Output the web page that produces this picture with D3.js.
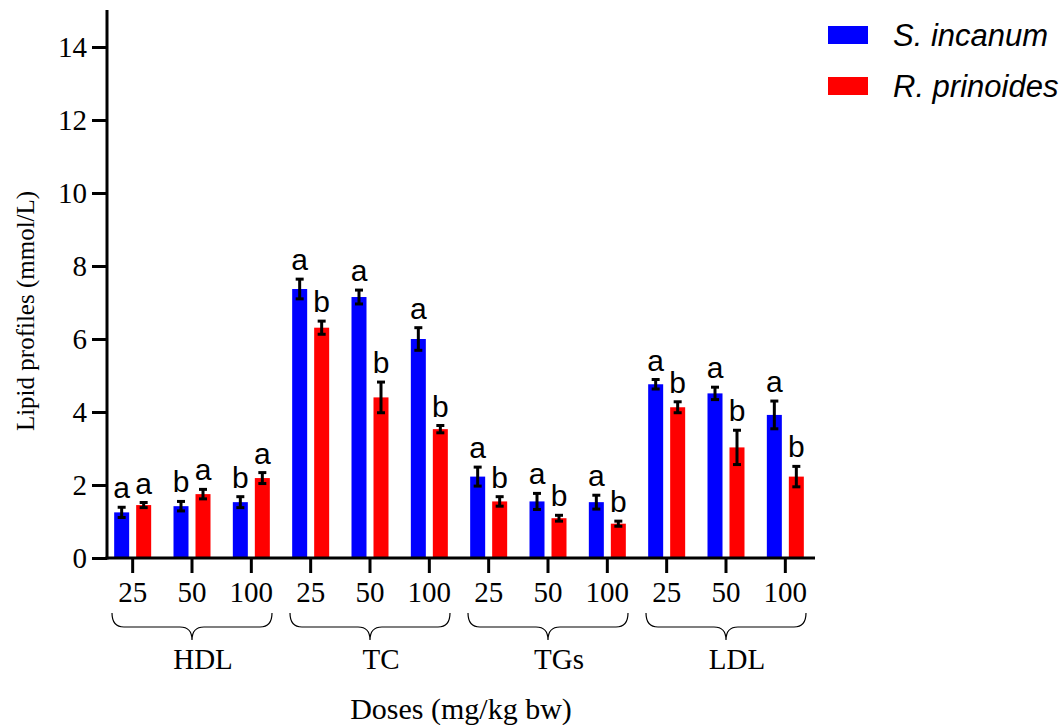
<!DOCTYPE html>
<html><head><meta charset="utf-8">
<script src="https://cdn.jsdelivr.net/npm/d3@7"></script>
<style>body{margin:0;background:#fff}svg{display:block}</style>
</head><body>
<script>
// ---- data ----
const groups = ["HDL", "TC", "TGs", "LDL"];
const doses = ["25", "50", "100"];
const series = ["S. incanum", "R. prinoides"];
const colors = ["#0000FF", "#FF0000"];
// means in group order (HDL 25,50,100, TC 25,50,100, TGs ..., LDL ...)
const sIncanum      = [1.25, 1.42, 1.53, 7.37, 7.15, 6.00, 2.23, 1.55, 1.53, 4.76, 4.51, 3.92];
const sIncanumErr   = [0.14, 0.13, 0.15, 0.27, 0.19, 0.31, 0.26, 0.22, 0.19, 0.13, 0.17, 0.38];
const sIncanumSig   = ["a", "b", "b", "a", "a", "a", "a", "a", "a", "a", "a", "a"];
const rPrinoides    = [1.45, 1.75, 2.19, 6.31, 4.40, 3.53, 1.55, 1.09, 0.94, 4.13, 3.03, 2.23];
const rPrinoidesErr = [0.07, 0.13, 0.15, 0.18, 0.42, 0.10, 0.13, 0.08, 0.07, 0.15, 0.47, 0.28];
const rPrinoidesSig = ["a", "a", "a", "b", "b", "b", "b", "b", "b", "b", "b", "b"];
const yTicks = [0, 2, 4, 6, 8, 10, 12, 14];

// ---- layout ----
const W = 1064, H = 725;
const axisX = 107, baseY = 558, topY = 10, rightX = 815;
const serif = "'Liberation Serif','Times New Roman',serif";
const sans = "'Liberation Sans',Arial,sans-serif";

const svg = d3.select("body").append("svg").attr("width", W).attr("height", H);

const cats = [];
groups.forEach(g => doses.forEach(d => cats.push(g + "|" + d)));

const x = d3.scaleBand().domain(cats).range([103, rightX]);
const xs = d3.scaleBand().domain(series).range([-18.5, 18.5]).paddingInner(0.318);
const y = d3.scaleLinear().domain([0, 15]).range([baseY, baseY - 15 * 36.5]);

const seriesData = [
  {name: series[0], vals: sIncanum, err: sIncanumErr, sig: sIncanumSig, color: colors[0]},
  {name: series[1], vals: rPrinoides, err: rPrinoidesErr, sig: rPrinoidesSig, color: colors[1]}
];

// bars
seriesData.forEach(s => {
  const g = svg.append("g");
  cats.forEach((c, i) => {
    const cx = x(c) + x.bandwidth() / 2 + xs(s.name) + xs.bandwidth() / 2;
    const v = s.vals[i], e = s.err[i];
    g.append("rect")
      .attr("x", cx - xs.bandwidth() / 2).attr("width", xs.bandwidth())
      .attr("y", y(v)).attr("height", y(0) - y(v))
      .attr("fill", s.color);
    // error bar
    g.append("line").attr("x1", cx).attr("x2", cx)
      .attr("y1", y(v - e)).attr("y2", y(v + e))
      .attr("stroke", "#000").attr("stroke-width", 3);
    [v - e, v + e].forEach(t => g.append("line")
      .attr("x1", cx - 4).attr("x2", cx + 4).attr("y1", y(t)).attr("y2", y(t))
      .attr("stroke", "#000").attr("stroke-width", 3));
    g.append("text").attr("x", cx).attr("y", y(v + e) - 9)
      .attr("text-anchor", "middle").attr("font-family", sans).attr("font-size", 30)
      .attr("fill", "#000").text(s.sig[i]);
  });
});

// y axis
const yAxis = svg.append("g").attr("transform", `translate(${axisX},0)`)
  .call(d3.axisLeft(y).tickValues(yTicks).tickSize(15).tickPadding(5).tickFormat(d3.format("d")));
yAxis.select(".domain").remove();
yAxis.selectAll(".tick line").attr("stroke", "#000").attr("stroke-width", 3);
yAxis.selectAll(".tick text").attr("font-family", serif).attr("font-size", 29).attr("fill", "#000")
  .attr("dy", "0.34em");
svg.append("line").attr("x1", axisX).attr("x2", axisX).attr("y1", topY).attr("y2", baseY + 1.5)
  .attr("stroke", "#000").attr("stroke-width", 3);

// x axis
const xAxis = svg.append("g").attr("transform", `translate(0,${baseY})`)
  .call(d3.axisBottom(x).tickSize(15).tickPadding(8).tickFormat(c => c.split("|")[1]));
xAxis.select(".domain").remove();
xAxis.selectAll(".tick line").attr("stroke", "#000").attr("stroke-width", 3);
xAxis.selectAll(".tick text").attr("font-family", serif).attr("font-size", 29).attr("fill", "#000");
svg.append("line").attr("x1", axisX - 1.5).attr("x2", rightX).attr("y1", baseY).attr("y2", baseY)
  .attr("stroke", "#000").attr("stroke-width", 3);

// braces and group labels
groups.forEach(gname => {
  const first = x(gname + "|" + doses[0]) + x.bandwidth() / 2;
  const last = x(gname + "|" + doses[doses.length - 1]) + x.bandwidth() / 2;
  const cx = (first + last) / 2;
  const w = 80, y0 = 613, y1 = 627, y2 = 640, r = 12;
  const p = `M${cx - w},${y0} Q${cx - w},${y1} ${cx - w + r},${y1} L${cx - r},${y1} Q${cx},${y1} ${cx},${y2} ` +
            `Q${cx},${y1} ${cx + r},${y1} L${cx + w - r},${y1} Q${cx + w},${y1} ${cx + w},${y0}`;
  svg.append("path").attr("d", p).attr("fill", "none").attr("stroke", "#000").attr("stroke-width", 1.2);
  svg.append("text").attr("x", cx + 11).attr("y", 669).attr("text-anchor", "middle")
    .attr("font-family", serif).attr("font-size", 29).attr("fill", "#000").text(gname);
});

// axis titles
svg.append("text").attr("x", 461).attr("y", 719).attr("text-anchor", "middle")
  .attr("font-family", serif).attr("font-size", 30).attr("fill", "#000").text("Doses (mg/kg bw)");
svg.append("text").attr("transform", "translate(34,311) rotate(-90)").attr("text-anchor", "middle")
  .attr("font-family", serif).attr("font-size", 25).attr("fill", "#000").text("Lipid profiles (mmol/L)");

// legend
series.forEach((s, i) => {
  const ly = 35 + i * 51;
  svg.append("rect").attr("x", 828).attr("y", ly - 9).attr("width", 40).attr("height", 18).attr("fill", colors[i]);
  svg.append("text").attr("x", 893).attr("y", ly + 11).attr("font-family", sans).attr("font-style", "italic")
    .attr("font-size", 31).attr("fill", "#000").text(s);
});
</script>
</body></html>
